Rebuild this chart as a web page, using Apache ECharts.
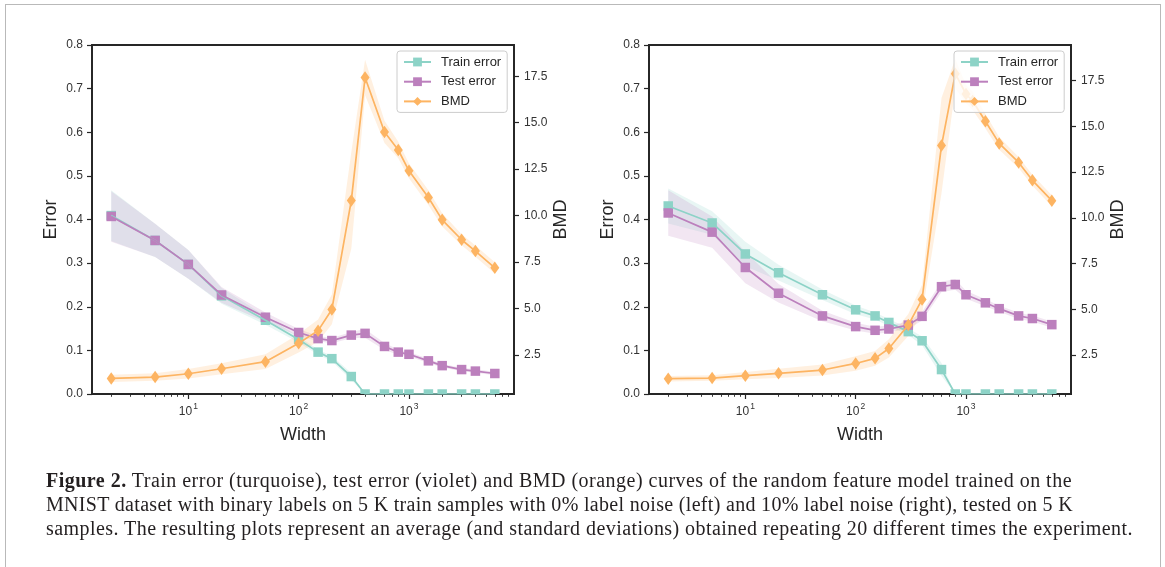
<!DOCTYPE html>
<html>
<head>
<meta charset="utf-8">
<script src="https://cdn.jsdelivr.net/npm/echarts@6/dist/echarts.min.js"></script>
<style>
html,body{margin:0;padding:0;background:#fff;}
#wrap{position:relative;width:1165px;height:567px;overflow:hidden;background:#fff;}
#chart{position:absolute;left:0;top:0;width:1165px;height:567px;}
#frame{position:absolute;left:5px;top:4px;width:1154px;height:620px;border:1px solid #b9b9b9;}
#caption{position:absolute;left:46px;top:468px;font-family:"Liberation Serif",serif;font-size:20px;line-height:24px;color:#231f20;white-space:nowrap;}
#caption div{white-space:nowrap;}
</style>
</head>
<body>
<div id="wrap">
  <div id="frame"></div>
  <div id="chart"></div>
  <div id="caption">
    <div data-w="1026"><b>Figure 2.</b> Train error (turquoise), test error (violet) and BMD (orange) curves of the random feature model trained on the</div>
    <div data-w="1027">MNIST dataset with binary labels on 5 K train samples with 0% label noise (left) and 10% label noise (right), tested on 5 K</div>
    <div data-w="1087">samples. The resulting plots represent an average (and standard deviations) obtained repeating 20 different times the experiment.</div>
  </div>
</div>
<script>
// widths (x axis, log scale)
var widths = [2, 5, 10, 20, 50, 100, 150, 200, 300, 400, 600, 800, 1000, 1500, 2000, 3000, 4000, 6000];
var bmdWidthsR = [2, 5, 10, 20, 50, 100, 150, 200, 300, 400, 600, 800, 1000, 1150, 1500, 2000, 3000, 4000, 6000];

// left panel: 0% label noise
var trainL    = [0.409, 0.352, 0.297, 0.225, 0.169, 0.125, 0.096, 0.081, 0.040, 0, 0, 0, 0, 0, 0, 0, 0, 0];
var trainStdL = [0.058, 0.038, 0.033, 0.018, 0.010, 0.007, 0.006, 0.006, 0.008, 0, 0, 0, 0, 0, 0, 0, 0, 0];
var testL     = [0.407, 0.352, 0.297, 0.227, 0.176, 0.141, 0.127, 0.1225, 0.135, 0.139, 0.109, 0.096, 0.091, 0.076, 0.065, 0.056, 0.0525, 0.047];
var testStdL  = [0.058, 0.038, 0.033, 0.018, 0.011, 0.008, 0.006, 0.006, 0.007, 0.010, 0.008, 0.006, 0.005, 0.005, 0.004, 0.004, 0.004, 0.004];
var bmdL      = [1.24, 1.31, 1.49, 1.76, 2.14, 3.13, 3.81, 4.95, 10.81, 17.43, 14.50, 13.53, 12.41, 10.97, 9.77, 8.70, 8.09, 7.19];
var bmdStdL   = [0.2, 0.2, 0.25, 0.3, 0.4, 0.5, 0.6, 0.8, 2.6, 0.95, 0.6, 0.45, 0.4, 0.4, 0.35, 0.3, 0.3, 0.3];

// right panel: 10% label noise
var trainR    = [0.431, 0.392, 0.321, 0.278, 0.2275, 0.193, 0.179, 0.164, 0.143, 0.122, 0.056, 0, 0, 0, 0, 0, 0, 0];
var trainStdR = [0.040, 0.027, 0.028, 0.018, 0.012, 0.010, 0.008, 0.008, 0.008, 0.010, 0.015, 0, 0, 0, 0, 0, 0, 0];
var testR     = [0.415, 0.371, 0.290, 0.231, 0.179, 0.1545, 0.146, 0.149, 0.158, 0.178, 0.246, 0.251, 0.2275, 0.209, 0.1956, 0.179, 0.173, 0.159];
var testStdR  = [0.052, 0.036, 0.036, 0.021, 0.012, 0.009, 0.008, 0.008, 0.008, 0.010, 0.012, 0.012, 0.009, 0.008, 0.007, 0.007, 0.007, 0.007];
var bmdR      = [1.21, 1.24, 1.37, 1.50, 1.68, 2.04, 2.32, 2.86, 4.14, 5.54, 13.95, 17.88, 16.77, 16.39, 15.28, 14.07, 13.03, 12.05, 10.94];
var bmdStdR   = [0.15, 0.15, 0.2, 0.25, 0.3, 0.4, 0.4, 0.5, 0.6, 0.8, 2.6, 0.8, 0.5, 0.5, 0.4, 0.35, 0.3, 0.3, 0.3];

// ticks
var bmdTicks = [2.5, 5, 7.5, 10, 12.5, 15, 17.5];
var majorX = [10, 100, 1000];
var minorX = [2, 3, 4, 5, 6, 7, 8, 9, 20, 30, 40, 50, 60, 70, 80, 90, 200, 300, 400, 500, 600, 700, 800, 900, 2000, 3000, 4000, 5000, 6000, 7000, 8000];

var C_TRAIN = '#8dd3c7', C_TEST = '#bc80bd', C_BMD = '#fdb462';
var INK = '#262626', FONT = 'Liberation Sans';
var SQ = 9.5;

function pairs(xs, ys) {
  return xs.map(function (x, i) { return [x, ys[i]]; });
}

// std band: polygon mean+std forward, mean-std back
function band(xs, mean, std, color, xi, yi) {
  return {
    type: 'custom', xAxisIndex: xi, yAxisIndex: yi, silent: true, z: 1, clip: true,
    data: [[xs[0], mean[0]]],
    renderItem: function (params, api) {
      var up = xs.map(function (x, i) { return api.coord([x, mean[i] + std[i]]); });
      var lo = xs.map(function (x, i) { return api.coord([x, mean[i] - std[i]]); }).reverse();
      return { type: 'polygon', shape: { points: up.concat(lo) }, style: { fill: color, opacity: 0.2 } };
    }
  };
}

function line(name, xs, ys, color, symbol, size, xi, yi, z, showSym) {
  return {
    name: name, type: 'line', xAxisIndex: xi, yAxisIndex: yi, z: z,
    data: pairs(xs, ys), symbol: symbol, symbolSize: size, showSymbol: showSym,
    lineStyle: { color: color, width: 1.7 }, itemStyle: { color: color, opacity: 1 },
    animation: false
  };
}

// square markers, clipped to the plot area like matplotlib
function squares(xs, ys, color, xi, yi) {
  return {
    type: 'custom', xAxisIndex: xi, yAxisIndex: yi, silent: true, z: 2, clip: true,
    data: pairs(xs, ys), encode: { x: 0, y: 1 },
    renderItem: function (params, api) {
      var p = api.coord([api.value(0), api.value(1)]);
      return { type: 'rect', shape: { x: p[0] - SQ / 2, y: p[1] - SQ / 2, width: SQ, height: SQ }, style: { fill: color } };
    }
  };
}

function xAxes(grid) {
  return [{
    type: 'log', gridIndex: grid, position: 'bottom', min: 1.339, max: 8954,
    name: 'Width', nameLocation: 'middle', nameGap: 32,
    nameTextStyle: { fontSize: 18, color: INK, fontFamily: FONT },
    axisLine: { show: true, lineStyle: { color: INK, width: 1.8 } },
    axisTick: { show: true, customValues: majorX, length: 5, lineStyle: { color: INK, width: 1.2 } },
    axisLabel: {
      customValues: majorX, margin: 8,
      formatter: function (v) { return '{b|10}{s|' + Math.round(Math.log10(v)) + '}'; },
      rich: {
        b: { fontSize: 12, color: '#333', fontFamily: FONT, lineHeight: 16, verticalAlign: 'bottom' },
        s: { fontSize: 8.5, color: '#333', fontFamily: FONT, lineHeight: 10, verticalAlign: 'top', padding: [0, 0, 0, 1] }
      }
    },
    splitLine: { show: false }
  }, {
    type: 'log', gridIndex: grid, position: 'bottom', offset: 0, min: 1.339, max: 8954,
    axisLine: { show: false },
    axisTick: { show: true, customValues: minorX, length: 2.8, lineStyle: { color: INK, width: 0.9 } },
    axisLabel: { show: false }, splitLine: { show: false }
  }];
}

function yAxes(grid, bmdMin, bmdMax) {
  return [{
    type: 'value', gridIndex: grid, position: 'left', min: 0, max: 0.8, interval: 0.1,
    name: 'Error', nameLocation: 'middle', nameGap: 32, nameRotate: 90,
    nameTextStyle: { fontSize: 18, color: INK, fontFamily: FONT },
    axisLine: { show: true, lineStyle: { color: INK, width: 1.8 } },
    axisTick: { show: true, length: 5, lineStyle: { color: INK, width: 1.2 } },
    axisLabel: { margin: 9, fontSize: 12, color: '#333', fontFamily: FONT,
      formatter: function (v) { return v.toFixed(1); } },
    splitLine: { show: false }
  }, {
    type: 'value', gridIndex: grid, position: 'right', min: bmdMin, max: bmdMax,
    name: 'BMD', nameLocation: 'middle', nameGap: 38, nameRotate: 90,
    nameTextStyle: { fontSize: 18, color: INK, fontFamily: FONT },
    axisLine: { show: true, lineStyle: { color: INK, width: 1.8 } },
    axisTick: { show: true, customValues: bmdTicks, length: 5, lineStyle: { color: INK, width: 1.2 } },
    axisLabel: { customValues: bmdTicks, margin: 10, fontSize: 12, color: '#333', fontFamily: FONT,
      formatter: function (v) { return v.toFixed(1); } },
    splitLine: { show: false }
  }];
}

function legend(left) {
  return {
    left: left, top: 51, orient: 'vertical', selectedMode: false,
    data: ['Train error', 'Test error', 'BMD'],
    itemWidth: 27, itemHeight: 11, itemGap: 5.7,
    padding: [4, 6, 4, 6],
    backgroundColor: 'rgba(255,255,255,0.8)', borderColor: '#cccccc', borderWidth: 1, borderRadius: 3,
    textStyle: { fontSize: 13, color: INK, fontFamily: FONT, lineHeight: 14, padding: [0, 0, 0, 5] }
  };
}

var chart = echarts.init(document.getElementById('chart'), null, { renderer: 'canvas' });

var option = {
  animation: false,
  backgroundColor: 'transparent',
  grid: [
    { left: 92, top: 45, width: 422, height: 349, show: true, borderColor: INK, borderWidth: 1.8, backgroundColor: 'transparent' },
    { left: 649, top: 45, width: 422, height: 349, show: true, borderColor: INK, borderWidth: 1.8, backgroundColor: 'transparent' }
  ],
  legend: [legend(397), legend(954)],
  xAxis: xAxes(0).concat(xAxes(1)),
  yAxis: yAxes(0, 0.4, 19.18).concat(yAxes(1, 0.37, 19.45)),
  series: [
    band(widths, trainL, trainStdL, C_TRAIN, 0, 0),
    band(widths, testL, testStdL, C_TEST, 0, 0),
    band(widths, bmdL, bmdStdL, C_BMD, 0, 1),
    line('Train error', widths, trainL, C_TRAIN, 'rect', SQ, 0, 0, 2, false),
    squares(widths, trainL, C_TRAIN, 0, 0),
    line('Test error', widths, testL, C_TEST, 'rect', SQ, 0, 0, 2, false),
    squares(widths, testL, C_TEST, 0, 0),
    line('BMD', widths, bmdL, C_BMD, 'diamond', [9, 12.5], 0, 1, 3, true),

    band(widths, trainR, trainStdR, C_TRAIN, 2, 2),
    band(widths, testR, testStdR, C_TEST, 2, 2),
    band(bmdWidthsR, bmdR, bmdStdR, C_BMD, 2, 3),
    line('Train error', widths, trainR, C_TRAIN, 'rect', SQ, 2, 2, 2, false),
    squares(widths, trainR, C_TRAIN, 2, 2),
    line('Test error', widths, testR, C_TEST, 'rect', SQ, 2, 2, 2, false),
    squares(widths, testR, C_TEST, 2, 2),
    line('BMD', bmdWidthsR, bmdR, C_BMD, 'diamond', [9, 12.5], 2, 3, 3, true)
  ]
};

chart.setOption(option);

// stretch caption lines to the measured line widths of the figure
Array.prototype.forEach.call(document.querySelectorAll('#caption div'), function (el) {
  var target = +el.getAttribute('data-w');
  el.style.display = 'inline-block';
  var w = el.getBoundingClientRect().width;
  var n = el.textContent.length;
  el.style.letterSpacing = ((target - w) / n) + 'px';
  el.style.display = 'block';
});
</script>
</body>
</html>
